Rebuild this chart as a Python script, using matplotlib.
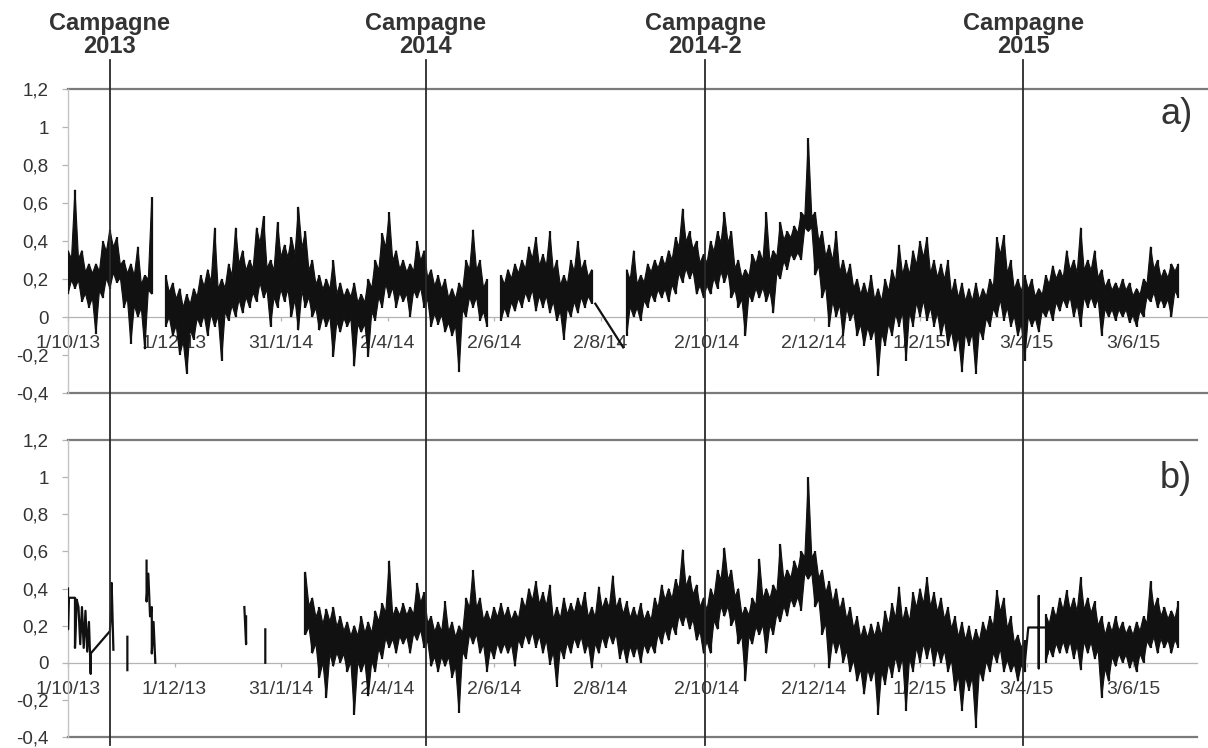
import numpy as np
import matplotlib
matplotlib.use("Agg")
import matplotlib.pyplot as plt
import matplotlib.dates as mdates
from matplotlib.lines import Line2D
from matplotlib.transforms import blended_transform_factory

plt.rcParams['font.family'] = ['Liberation Sans', 'DejaVu Sans']

# ---------------- data ----------------
START = "2013-10-01"
STEP_DAYS = 4          # one high / low pair every 4 days

X_TICK_DATES = ["2013-10-01", "2013-12-01", "2014-01-31", "2014-04-02", "2014-06-02",
                "2014-08-02", "2014-10-02", "2014-12-02", "2015-02-01", "2015-04-03",
                "2015-06-03"]
X_TICK_LABELS = ["1/10/13", "1/12/13", "31/1/14", "2/4/14", "2/6/14", "2/8/14",
                 "2/10/14", "2/12/14", "1/2/15", "3/4/15", "3/6/15"]
Y_TICKS = [-0.4, -0.2, 0, 0.2, 0.4, 0.6, 0.8, 1.0, 1.2]
Y_TICK_LABELS = ["-0,4", "-0,2", "0", "0,2", "0,4", "0,6", "0,8", "1", "1,2"]

CAMPAIGN_NAMES = ["Campagne\n2013", "Campagne\n2014", "Campagne\n2014-2", "Campagne\n2015"]
CAMPAIGN_DATES = ["2013-10-25", "2014-04-24", "2014-10-01", "2015-04-01"]

N = None
# panel a) : upper / lower envelope every 4 days
A_HI = [0.35, 0.67, 0.35, 0.28, 0.28, 0.40, 0.46, 0.42, 0.30, 0.28,
        0.37, 0.22, 0.63, N, 0.22, 0.18, 0.15, 0.12, 0.15, 0.22,
        0.25, 0.47, 0.20, 0.28, 0.47, 0.35, 0.30, 0.47, 0.53, 0.30,
        0.50, 0.38, 0.42, 0.58, 0.45, 0.30, 0.22, 0.20, 0.30, 0.18,
        0.15, 0.18, 0.12, 0.20, 0.30, 0.44, 0.55, 0.35, 0.30, 0.28,
        0.40, 0.35, 0.25, 0.22, 0.20, 0.15, 0.18, 0.30, 0.46, 0.30,
        0.20, N, 0.22, 0.25, 0.28, 0.30, 0.37, 0.42, 0.33, 0.45,
        0.30, 0.22, 0.30, 0.40, 0.30, 0.25, N, N, N, N,
        0.25, 0.35, 0.22, 0.28, 0.30, 0.32, 0.35, 0.42, 0.57, 0.45,
        0.40, 0.33, 0.40, 0.45, 0.55, 0.45, 0.30, 0.25, 0.33, 0.35,
        0.55, 0.35, 0.50, 0.45, 0.48, 0.55, 0.94, 0.55, 0.45, 0.38,
        0.45, 0.30, 0.28, 0.20, 0.18, 0.22, 0.15, 0.20, 0.25, 0.38,
        0.30, 0.35, 0.40, 0.42, 0.30, 0.28, 0.30, 0.20, 0.18, 0.15,
        0.18, 0.15, 0.20, 0.42, 0.43, 0.30, 0.20, 0.22, 0.20, 0.15,
        0.22, 0.27, 0.25, 0.35, 0.30, 0.47, 0.30, 0.35, 0.25, 0.20,
        0.18, 0.20, 0.18, 0.15, 0.20, 0.37, 0.30, 0.25, 0.28, 0.28]
A_LO = [0.12, 0.15, 0.08, 0.05, -0.09, 0.10, 0.15, 0.18, 0.05, -0.14,
        0.00, -0.17, 0.12, N, -0.05, -0.10, -0.20, -0.30, -0.12, -0.05,
        -0.10, -0.05, -0.23, -0.02, 0.00, 0.02, 0.05, 0.08, 0.10, -0.05,
        0.05, 0.08, 0.00, -0.07, 0.05, 0.00, -0.07, -0.05, -0.21, -0.08,
        -0.05, -0.26, -0.08, -0.21, -0.02, 0.05, 0.10, 0.05, 0.08, 0.00,
        0.10, 0.05, -0.05, -0.04, -0.08, -0.10, -0.29, 0.00, 0.05, -0.02,
        -0.05, N, -0.02, 0.00, 0.03, 0.05, 0.08, 0.03, 0.05, 0.02,
        -0.02, -0.12, 0.00, 0.02, 0.05, 0.07, N, N, N, N,
        -0.10, 0.00, -0.02, 0.05, 0.08, 0.10, 0.08, 0.12, 0.18, 0.20,
        0.12, 0.10, 0.12, 0.15, 0.18, 0.10, 0.05, -0.10, 0.08, 0.10,
        0.08, 0.02, 0.20, 0.25, 0.30, 0.30, 0.45, 0.22, 0.10, -0.05,
        0.00, -0.10, -0.02, -0.10, -0.15, -0.12, -0.31, -0.15, -0.10, -0.05,
        -0.23, -0.05, 0.00, -0.02, -0.05, -0.10, -0.15, -0.18, -0.29, -0.15,
        -0.30, -0.12, -0.05, 0.00, -0.02, -0.05, -0.10, -0.23, -0.05, -0.08,
        0.00, -0.02, 0.03, 0.05, 0.00, -0.05, 0.05, 0.05, -0.10, 0.00,
        -0.02, 0.00, -0.03, -0.05, 0.00, 0.08, 0.05, 0.05, 0.00, 0.10]
# straight line across the data gap of panel a)
A_BRIDGE_DAYS = [302, 318]
A_BRIDGE_VALS = [0.07, -0.16]

# panel b) : dense record starts in February 2014
B_HI = [N] * 34 + [
        0.49, 0.35, 0.30, 0.29, 0.30, 0.25,
        0.22, 0.20, 0.25, 0.22, 0.28, 0.32, 0.55, 0.30, 0.32, 0.30,
        0.43, 0.38, 0.25, 0.22, 0.33, 0.22, 0.20, 0.35, 0.50, 0.35,
        0.28, 0.30, 0.32, 0.30, 0.28, 0.35, 0.40, 0.44, 0.38, 0.42,
        0.30, 0.35, 0.32, 0.35, 0.38, 0.30, 0.41, 0.35, 0.47, 0.35,
        0.33, 0.30, 0.32, 0.28, 0.35, 0.42, 0.40, 0.45, 0.61, 0.47,
        0.42, 0.35, 0.40, 0.50, 0.62, 0.50, 0.40, 0.30, 0.35, 0.56,
        0.40, 0.42, 0.64, 0.50, 0.55, 0.60, 1.00, 0.60, 0.50, 0.44,
        0.40, 0.35, 0.30, 0.25, 0.20, 0.21, 0.22, 0.28, 0.32, 0.41,
        0.30, 0.38, 0.40, 0.46, 0.38, 0.35, 0.30, 0.25, 0.22, 0.20,
        0.18, 0.22, 0.25, 0.39, 0.35, 0.25, 0.15, 0.12, N, N,
        0.26, 0.30, 0.35, 0.39, 0.35, 0.46, 0.35, 0.33, 0.25, 0.22,
        0.25, 0.22, 0.20, 0.22, 0.25, 0.44, 0.35, 0.30, 0.28, 0.33]
B_LO = [N] * 34 + [
        0.15, 0.05, -0.08, -0.19, -0.02, 0.00,
        -0.05, -0.28, -0.05, -0.18, -0.05, 0.02, 0.08, 0.05, 0.10, 0.05,
        0.12, 0.08, -0.02, -0.05, -0.02, -0.08, -0.27, 0.02, 0.10, 0.05,
        -0.05, 0.02, 0.05, 0.05, -0.02, 0.08, 0.10, 0.08, 0.05, -0.01,
        -0.13, 0.02, 0.05, 0.08, 0.05, -0.03, 0.05, 0.08, 0.10, 0.02,
        0.00, 0.03, 0.00, 0.05, 0.05, 0.10, 0.12, 0.15, 0.20, 0.18,
        0.12, 0.05, 0.05, 0.18, 0.25, 0.20, 0.10, -0.10, 0.10, 0.15,
        0.05, 0.15, 0.22, 0.25, 0.30, 0.28, 0.45, 0.30, 0.15, -0.03,
        0.05, 0.00, -0.05, -0.10, -0.17, -0.10, -0.28, -0.12, -0.08, -0.05,
        -0.26, -0.05, 0.00, 0.02, -0.02, 0.00, -0.05, -0.15, -0.26, -0.15,
        -0.35, -0.10, -0.05, 0.00, -0.05, -0.05, -0.10, -0.05, N, N,
        0.00, 0.03, 0.05, 0.05, 0.02, -0.04, 0.05, 0.02, -0.19, -0.10,
        -0.02, 0.00, -0.03, -0.05, 0.00, 0.08, 0.05, 0.08, 0.05, 0.08]
# sparse records of autumn 2013 / winter 2014 in panel b) (None = break)
B_SPARSE_DAYS = [0, 0, 0.5, 4, 4, 5, 6, 7, 8, 9, 10, 11, 12, 13, 13, 24, 25, 25, 26, None,
                 34, 34, None,
                 45, 45, 46, 47, 48, 48, 49, 50, None,
                 101, 102, 102, None,
                 113, 113]
B_SPARSE_VALS = [0.40, 0.18, 0.35, 0.35, 0.08, 0.34, 0.30, 0.10, 0.30, 0.08, 0.28, 0.06,
                 0.22, -0.06, 0.05, 0.17, 0.34, 0.43, 0.07, None,
                 0.14, -0.04, None,
                 0.55, 0.33, 0.48, 0.25, 0.30, 0.05, 0.22, 0.00, None,
                 0.30, 0.10, 0.25, None,
                 0.18, 0.00]
# flat bridged stretch in spring 2015, panel b)
B_BRIDGE_DAYS = [548, 550, 556, 556, 556, 556, 561, 561]
B_BRIDGE_VALS = [0.00, 0.19, 0.19, 0.36, -0.03, 0.19, 0.19, 0.05]

# ---------------- figure ----------------
W, H = 1208, 748
fig = plt.figure(figsize=(W / 100, H / 100), dpi=100)
base = mdates.datestr2num(START)


def px_axes(left, top, right, bottom):
    return fig.add_axes([left / W, 1 - bottom / H, (right - left) / W, (bottom - top) / H])


ax_a = px_axes(68, 89, 1200, 393)
ax_b = px_axes(68, 440, 1200, 737)

INK = "#111111"
NOTCH = 0.22   # depth of the saw-tooth notches between read extremes (rendering only)


def draw_band(ax, hi, lo):
    """Dense record drawn as a saw-tooth band whose tips are the read highs / lows."""
    hi = np.array([np.nan if v is None else v for v in hi], float)
    lo = np.array([np.nan if v is None else v for v in lo], float)
    days = np.arange(len(hi)) * STEP_DAYS
    idx = np.where(~np.isnan(hi))[0]
    if len(idx) == 0:
        return
    splits = np.where(np.diff(idx) > 1)[0] + 1
    for seg in np.split(idx, splits):
        h, l = hi[seg], lo[seg]
        x = base + days[seg]
        if len(seg) > 1:
            top_n = np.minimum(h[:-1], h[1:])
            bot_n = np.maximum(l[:-1], l[1:])
            gap = np.maximum(top_n - bot_n, 0.0)
            vu = top_n - NOTCH * gap
            vl = bot_n + NOTCH * gap
            xm = x[:-1] + STEP_DAYS / 2
            ux = np.empty(2 * len(seg) - 1)
            uy = np.empty_like(ux)
            lx = np.empty_like(ux)
            ly = np.empty_like(ux)
            ux[0::2], ux[1::2] = x, xm
            uy[0::2], uy[1::2] = h, vu
            lx[0::2], lx[1::2] = x, xm
            ly[0::2], ly[1::2] = l, vl
        else:
            ux, uy, lx, ly = x, h, x, l
        px = np.concatenate([ux, lx[::-1]])
        py = np.concatenate([uy, ly[::-1]])
        ax.fill(px, py, facecolor=INK, edgecolor=INK, lw=0.8, zorder=3)
        ax.vlines(x, l, h, color=INK, lw=1.6, zorder=3)


def draw_poly(ax, days, vals):
    d = np.array([np.nan if v is None else v for v in days], float)
    v = np.array([np.nan if x is None else x for x in vals], float)
    ax.plot(base + d, v, color=INK, lw=1.6, zorder=3)


tick_nums = [mdates.datestr2num(s) for s in X_TICK_DATES]
x_max = base + (1200 - 68) / 1.746

for ax, ext in ((ax_a, (1208 - 68) / (1200 - 68)), (ax_b, (1197 - 68) / (1200 - 68))):
    ax.set_xlim(base, x_max)
    ax.set_ylim(-0.4, 1.2)
    ax.patch.set_visible(False)
    ax.set_axisbelow(True)
    for s in ("top", "right"):
        ax.spines[s].set_visible(False)
    ax.spines["left"].set_color("#c4c4c4")
    ax.spines["left"].set_linewidth(1.0)
    ax.spines["bottom"].set_position(("data", 0))
    ax.spines["bottom"].set_color("#b4b4b4")
    ax.spines["bottom"].set_linewidth(0.9)
    ax.spines["bottom"].set_bounds(base, base + ext * (x_max - base))
    ax.axhline(1.2, xmin=0, xmax=ext, color="#7a7a7a", lw=1.6, clip_on=False, zorder=1)
    ax.axhline(-0.4, xmin=0, xmax=ext, color="#7a7a7a", lw=1.6, clip_on=False, zorder=1)
    ax.set_yticks(Y_TICKS)
    ax.set_yticklabels(Y_TICK_LABELS)
    ax.set_xticks(tick_nums)
    ax.set_xticklabels(X_TICK_LABELS)
    ax.tick_params(axis="x", direction="out", length=3, width=0.9, color="#b4b4b4",
                   pad=10, labelsize=14, labelcolor="#3a3a3a")
    ax.tick_params(axis="y", direction="out", length=4, width=0.9, color="#b4b4b4",
                   pad=10, labelsize=13.5, labelcolor="#333333")

draw_band(ax_a, A_HI, A_LO)
draw_poly(ax_a, A_BRIDGE_DAYS, A_BRIDGE_VALS)
draw_band(ax_b, B_HI, B_LO)
draw_poly(ax_b, B_SPARSE_DAYS, B_SPARSE_VALS)
draw_poly(ax_b, B_BRIDGE_DAYS, B_BRIDGE_VALS)

# campaign markers running through both panels
trans = blended_transform_factory(ax_a.transData, fig.transFigure)
for name, d in zip(CAMPAIGN_NAMES, CAMPAIGN_DATES):
    x = mdates.datestr2num(d)
    fig.add_artist(Line2D([x, x], [1 - 60 / H, 1 - 745 / H], transform=trans,
                          color="#2a2a2a", lw=1.3, zorder=5))
    fig.text(x, 1 - 35 / H, name, transform=trans, ha="center", va="center",
             fontsize=17, fontweight="bold", color="#333333", linespacing=1.0)

fig.text(1160 / W, 1 - 115 / H, "a)", fontsize=26, color="#333333", va="center", ha="left")
fig.text(1160 / W, 1 - 478 / H, "b)", fontsize=26, color="#333333", va="center", ha="left")

fig.savefig("out.png", dpi=100)
